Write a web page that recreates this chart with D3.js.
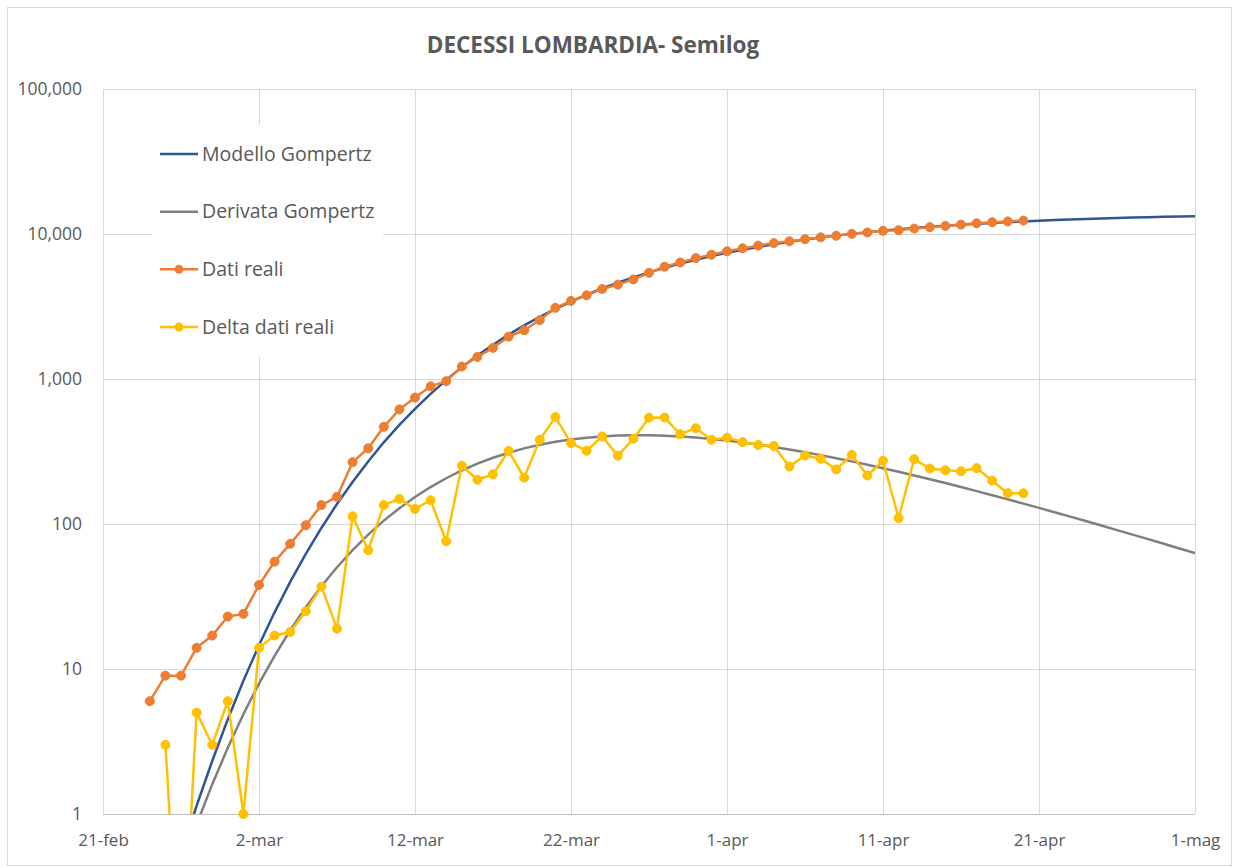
<!DOCTYPE html>
<html>
<head>
<meta charset="utf-8">
<script src="https://cdn.jsdelivr.net/npm/d3@7"></script>
<style>
  html, body { margin: 0; padding: 0; background: #fff; }
  svg { display: block; }
  text { font-family: "Open Sans", Lato, sans-serif; fill: #595959; }
</style>
</head>
<body>
<svg id="chart" width="1235" height="868"></svg>
<script>
// ---------- DATA ----------
const title = "DECESSI LOMBARDIA- Semilog";
const seriesNames = ["Modello Gompertz", "Derivata Gompertz", "Dati reali", "Delta dati reali"];

const xTickDates = ["2020-02-21","2020-03-02","2020-03-12","2020-03-22","2020-04-01","2020-04-11","2020-04-21","2020-05-01"];
const xTickLabels = ["21-feb","2-mar","12-mar","22-mar","1-apr","11-apr","21-apr","1-mag"];
const yTickValues = [1, 10, 100, 1000, 10000, 100000];

// real data: daily from 24-feb to 20-apr
const realStart = "2020-02-24";
const datiReali = [6,9,9,14,17,23,24,38,55,73,98,135,154,267,333,468,617,744,890,966,
  1218,1420,1640,1959,2168,2549,3095,3456,3776,4178,4474,4861,5402,5944,6360,6818,7199,
  7593,7960,8311,8656,8905,9202,9484,9722,10022,10238,10511,10621,10901,11142,11377,
  11608,11851,12050,12213,12376];

// daily deltas: from 25-feb to 20-apr
const deltaStart = "2020-02-25";
const deltaDati = [3,0,5,3,6,1,14,17,18,25,37,19,113,66,135,149,127,146,76,252,202,220,
  319,209,381,546,361,320,402,296,387,541,542,416,458,381,394,367,351,345,249,297,282,
  238,300,216,273,110,280,241,235,231,243,199,163,163];

// model curves: daily from 25-feb to 1-mag
const modelStart = "2020-02-25";
const modelloGompertz = [0.225,0.524,1.14,2.32,4.50,8.30,14.6,24.6,39.9,62.2,93.9,137.5,
  195,270,366,482,623,790,983,1203,1451,1724,2022,2345,2686,3047,3422,3811,4209,4615,
  5024,5433,5840,6246,6644,7034,7417,7787,8147,8494,8827,9147,9453,9745,10021,10283,
  10534,10770,10992,11202,11400,11586,11759,11923,12075,12219,12353,12477,12594,12703,
  12803,12897,12985,13066,13142,13213,13278];
const derivataGompertz = [0.196,0.422,0.847,1.60,2.86,4.88,7.92,12.3,18.5,26.7,37.2,50.3,
  66.1,84.5,105.5,128.5,153.5,179.8,206.8,233.9,260.7,286.2,310.2,332.4,351.8,368.8,
  382.8,393.8,402.0,407.2,409.6,409.3,406.6,401.8,395.0,386.4,376.5,365.2,353.1,340.1,
  326.6,312.7,298.6,284.5,270.3,256.4,242.7,229.2,216.2,203.6,191.5,179.8,168.6,158.0,
  147.9,138.2,129.1,120.5,112.4,104.8,97.6,90.8,84.5,78.6,73.0,67.8,63.0];

const colors = { modello: "#2F5597", derivata: "#7F7F7F", reali: "#ED7D31", delta: "#FFC000" };
const ZERO_FLOOR = 0.05; // zero values on a log axis are drawn off the bottom

// ---------- HELPERS ----------
const parse = d3.utcParse("%Y-%m-%d");
const DAY = 864e5;
function toSeries(start, values) {
  const s = parse(start).getTime();
  return values.map((v, i) => ({ date: new Date(s + i * DAY), value: v }));
}
const sModello = toSeries(modelStart, modelloGompertz);
const sDerivata = toSeries(modelStart, derivataGompertz);
const sReali = toSeries(realStart, datiReali);
const sDelta = toSeries(deltaStart, deltaDati);

// ---------- LAYOUT ----------
const svg = d3.select("#chart");
const W = 1235, H = 868;
const plot = { left: 103, right: 1195, top: 89, bottom: 814 };

svg.append("rect").attr("x", 0).attr("y", 0).attr("width", W).attr("height", H).attr("fill", "#fff");
svg.append("rect").attr("x", 7.5).attr("y", 7.5).attr("width", 1224).attr("height", 858)
  .attr("fill", "none").attr("stroke", "#d9d9d9").attr("stroke-width", 1);

const xTicks = xTickDates.map(parse);
const x = d3.scaleUtc().domain([xTicks[0], xTicks[xTicks.length - 1]]).range([plot.left, plot.right]);
const y = d3.scaleLog().domain([1, 100000]).range([plot.bottom, plot.top]);

// clip
svg.append("clipPath").attr("id", "clip").append("rect")
  .attr("x", plot.left).attr("y", plot.top)
  .attr("width", plot.right - plot.left).attr("height", plot.bottom - plot.top);

// gridlines
const grid = svg.append("g").attr("class", "grid");
grid.selectAll("line.h").data(yTickValues).join("line").attr("class", "h")
  .attr("x1", plot.left).attr("x2", plot.right)
  .attr("y1", d => Math.round(y(d)) + 0.5).attr("y2", d => Math.round(y(d)) + 0.5)
  .attr("stroke", "#d9d9d9").attr("stroke-width", 1);
grid.selectAll("line.v").data(xTicks).join("line").attr("class", "v")
  .attr("x1", d => Math.round(x(d)) + 0.5).attr("x2", d => Math.round(x(d)) + 0.5)
  .attr("y1", plot.top).attr("y2", plot.bottom)
  .attr("stroke", "#d9d9d9").attr("stroke-width", 1);
// bottom axis line
svg.append("line").attr("x1", plot.left).attr("x2", plot.right)
  .attr("y1", plot.bottom + 0.5).attr("y2", plot.bottom + 0.5)
  .attr("stroke", "#bfbfbf").attr("stroke-width", 1);

// axes
const yAxis = d3.axisLeft(y).tickValues(yTickValues).tickFormat(d3.format(",")).tickSize(0).tickPadding(21);
const gy = svg.append("g").attr("transform", `translate(${plot.left},0)`).call(yAxis);
gy.select(".domain").remove();
gy.selectAll("text").style("font-size", "17.5px").attr("fill", "#595959");

const xAxis = d3.axisBottom(x).tickValues(xTicks).tickFormat((d, i) => xTickLabels[i]).tickSize(0).tickPadding(20);
const gx = svg.append("g").attr("transform", `translate(0,${plot.bottom})`).call(xAxis);
gx.select(".domain").remove();
gx.selectAll("text").style("font-size", "17px").attr("fill", "#595959");

// lines
const line = d3.line().x(d => x(d.date)).y(d => y(d.value > 0 ? d.value : ZERO_FLOOR));
const lines = svg.append("g").attr("clip-path", "url(#clip)");
function drawLine(data, color, w) {
  lines.append("path").datum(data).attr("d", line)
    .attr("fill", "none").attr("stroke", color).attr("stroke-width", w)
    .attr("stroke-linejoin", "round").attr("stroke-linecap", "round");
}
drawLine(sModello, colors.modello, 2.5);
drawLine(sDerivata, colors.derivata, 2.5);
drawLine(sReali, colors.reali, 2.5);
drawLine(sDelta, colors.delta, 2.5);

// markers
function drawMarkers(data, color) {
  svg.append("g").selectAll("circle").data(data.filter(d => d.value > 0)).join("circle")
    .attr("cx", d => x(d.date)).attr("cy", d => y(d.value)).attr("r", 4.5)
    .attr("fill", color).attr("stroke", color).attr("stroke-width", 1);
}
drawMarkers(sReali, colors.reali);
drawMarkers(sDelta, colors.delta);

// title
svg.append("text").attr("x", 593).attr("y", 53).attr("text-anchor", "middle")
  .style("font-size", "22.5px").style("font-weight", "bold").attr("fill", "#595959").text(title);

// legend
const legend = svg.append("g");
legend.append("rect").attr("x", 152).attr("y", 125).attr("width", 231).attr("height", 232).attr("fill", "#fff");
const legendItems = [
  { name: seriesNames[0], color: colors.modello, marker: false },
  { name: seriesNames[1], color: colors.derivata, marker: false },
  { name: seriesNames[2], color: colors.reali, marker: true },
  { name: seriesNames[3], color: colors.delta, marker: true }
];
const legendY = d3.scalePoint().domain(legendItems.map(d => d.name)).range([154, 327]);
const li = legend.selectAll("g.item").data(legendItems).join("g").attr("class", "item")
  .attr("transform", d => `translate(0,${legendY(d.name)})`);
li.append("line").attr("x1", 160).attr("x2", 198).attr("y1", 0).attr("y2", 0)
  .attr("stroke", d => d.color).attr("stroke-width", 2.5);
li.filter(d => d.marker).append("circle").attr("cx", 179).attr("cy", 0).attr("r", 4.5).attr("fill", d => d.color);
li.append("text").attr("x", 202).attr("y", 0).attr("dy", "0.35em")
  .style("font-size", "19.5px").attr("fill", "#595959").text(d => d.name);
</script>
</body>
</html>
